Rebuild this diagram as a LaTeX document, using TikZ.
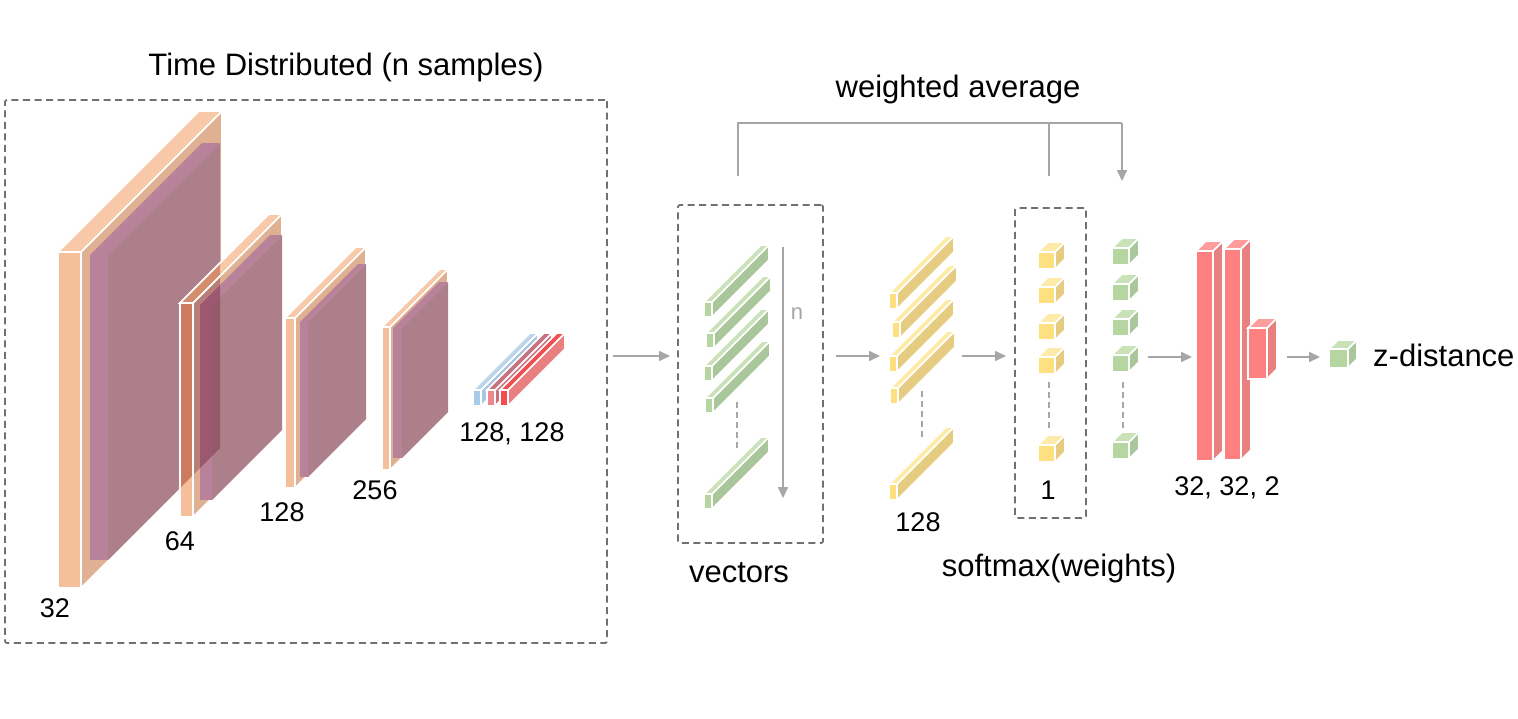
\documentclass[tikz,border=0pt]{standalone}
\usepackage{fontspec}
\setmainfont{Liberation Sans}
\usetikzlibrary{arrows.meta}
\definecolor{orF}{HTML}{F5BF9B}
\definecolor{orT}{HTML}{F7C9A8}
\definecolor{orS}{HTML}{DFB092}
\definecolor{orFd}{HTML}{CD7B5E}
\definecolor{orTd}{HTML}{D48E6E}
\definecolor{orSd}{HTML}{B87E78}
\definecolor{puF}{HTML}{B7829A}
\definecolor{puS}{HTML}{AD7F8A}
\definecolor{puFd}{HTML}{9B5870}
\definecolor{puSd}{HTML}{935A6A}
\definecolor{grF}{HTML}{B5D6A0}
\definecolor{grT}{HTML}{C9E2B8}
\definecolor{grS}{HTML}{A9C79A}
\definecolor{yeF}{HTML}{FFE080}
\definecolor{yeT}{HTML}{FFEBA8}
\definecolor{yeS}{HTML}{E5CC80}
\definecolor{rdF}{HTML}{FF8080}
\definecolor{rdT}{HTML}{FF9C9C}
\definecolor{rdS}{HTML}{E88080}
\definecolor{blF}{HTML}{A9CBE8}
\definecolor{blT}{HTML}{BAD5EC}
\definecolor{blS}{HTML}{A9C6E0}
\definecolor{mvF}{HTML}{F08690}
\definecolor{mvT}{HTML}{C7727F}
\definecolor{rrF}{HTML}{F24C4C}
\definecolor{rrT}{HTML}{EE5050}
\definecolor{lineG}{HTML}{A6A6A6}
\definecolor{boxG}{HTML}{707070}
\tikzset{
  edge3d/.style={draw=white,line width=1.6pt,line join=miter},
  dbox/.style={draw=boxG,line width=1.8pt,dash pattern=on 7pt off 4.5pt,rounded corners=2pt,inner sep=0pt},
  garrow/.style={draw=lineG,line width=1.8pt,-{Triangle[length=11pt,width=10pt]}},
  gline/.style={draw=lineG,line width=1.8pt},
  dline/.style={draw=lineG,line width=1.6pt,dash pattern=on 6pt off 4pt},
  biglab/.style={font=\fontsize{31}{36}\selectfont,inner sep=0pt},
  numlab/.style={font=\fontsize{27}{32}\selectfont,inner sep=0pt},
}
% x0 ytop w h d front top side
\newcommand{\slab}[8]{%
  \begin{scope}[shift={(#1,#2)}]
    \filldraw[fill=#8,edge3d] (#3,0) -- ({#3+#5},{-#5}) -- ({#3+#5},{#4-#5}) -- (#3,#4) -- cycle;
    \filldraw[fill=#7,edge3d] (0,0) -- (#5,-#5) -- ({#3+#5},{-#5}) -- (#3,0) -- cycle;
    \filldraw[fill=#6,edge3d] (0,0) rectangle (#3,#4);
  \end{scope}}
% purple box: x0 ytop w h d front side
\newcommand{\pbox}[7]{%
  \begin{scope}[shift={(#1,#2)}]
    \fill[#7] (#3,0) -- ({#3+#5},{-#5}) -- ({#3+#5},{#4-#5}) -- (#3,#4) -- cycle;
    \fill[#6] (0,0) -- (#5,-#5) -- ({#3+#5},{-#5}) -- (#3,0) -- cycle;
    \fill[#6] (0,0) rectangle (#3,#4);
  \end{scope}}
\begin{document}
\begin{tikzpicture}[x=1pt,y=-1pt]
\useasboundingbox (0,0) rectangle (1518,718);
\fill[white] (0,0) rectangle (1518,718);

% ---- dashed frames
\node[dbox,minimum width=602pt,minimum height=543pt] (tdbox) at (306,371.5) {};
\node[dbox,minimum width=145pt,minimum height=338pt] (vecbox) at (750.5,374) {};
\node[dbox,minimum width=71pt,minimum height=310pt] (smbox) at (1050.5,363) {};

% ---- convolution stack
\slab{58}{252}{23}{336}{141}{orF}{orT}{orS}
\pbox{90}{255}{18}{305}{112}{puF}{puS}
\slab{180}{303}{13}{214}{89}{orF}{orT}{orS}
\begin{scope}
  \clip (90,255) -- (202,143) -- (220,143) -- (220,448) -- (108,560) -- (90,560) -- cycle;
  \slab{180}{303}{13}{214}{89}{orFd}{orTd}{orSd}
\end{scope}
\pbox{200}{305}{12}{195}{70}{puF}{puS}
\begin{scope}
  \clip (90,255) -- (202,143) -- (220,143) -- (220,448) -- (108,560) -- (90,560) -- cycle;
  \pbox{200}{305}{12}{195}{70}{puFd}{puSd}
\end{scope}
\slab{285}{318}{10}{170}{71}{orF}{orT}{orS}
\pbox{300}{322}{8}{155}{58}{puF}{puS}
\slab{382}{327}{8}{143}{58}{orF}{orT}{orS}
\pbox{393}{328}{9}{130}{46}{puF}{puS}
% small bars
\slab{473}{390}{8}{16}{57}{blF}{blT}{blS}
\slab{487}{390}{8}{16}{57}{mvF}{mvT}{mvT}
\slab{500}{390}{8}{16}{57}{rrF}{rrT}{rdS}

% ---- green vectors
\slab{704}{302}{8}{15}{57}{grF}{grT}{grS}
\slab{706}{333}{8}{15}{57}{grF}{grT}{grS}
\slab{704}{366}{8}{15}{57}{grF}{grT}{grS}
\slab{705}{398}{8}{15}{57}{grF}{grT}{grS}
\slab{704}{494}{8}{15}{57}{grF}{grT}{grS}
\coordinate (gd1) at (737,402); \coordinate (gd2) at (737,449);
\draw[dline] (gd1) -- (gd2);
\coordinate (ns) at (783,247); \coordinate (ne) at (783,498);
\draw[draw=lineG,line width=1.6pt,-{Triangle[length=11pt,width=10pt]}] (ns) -- (ne);
\node[font=\fontsize{22}{26}\selectfont,text=lineG,inner sep=0pt] (nlab) at (797,314) {n};

% ---- yellow vectors
\slab{889}{293}{8}{16}{57}{yeF}{yeT}{yeS}
\slab{892}{322}{8}{16}{57}{yeF}{yeT}{yeS}
\slab{889}{356}{8}{16}{57}{yeF}{yeT}{yeS}
\slab{890}{388}{8}{16}{57}{yeF}{yeT}{yeS}
\slab{889}{484}{8}{16}{57}{yeF}{yeT}{yeS}
\coordinate (yd1) at (922,391); \coordinate (yd2) at (922,438);
\draw[dline] (yd1) -- (yd2);

% ---- yellow cubes (weights)
\slab{1038}{252}{17}{17}{10}{yeF}{yeT}{yeS}
\slab{1038}{287}{17}{17}{10}{yeF}{yeT}{yeS}
\slab{1038}{323}{17}{17}{10}{yeF}{yeT}{yeS}
\slab{1038}{357}{17}{17}{10}{yeF}{yeT}{yeS}
\slab{1038}{445}{17}{17}{10}{yeF}{yeT}{yeS}
\coordinate (cd1) at (1049,382); \coordinate (cd2) at (1049,430);
\draw[dline] (cd1) -- (cd2);

% ---- green cubes
\slab{1112}{248}{17}{17}{10}{grF}{grT}{grS}
\slab{1112}{284}{17}{17}{10}{grF}{grT}{grS}
\slab{1112}{319}{17}{17}{10}{grF}{grT}{grS}
\slab{1112}{355}{17}{17}{10}{grF}{grT}{grS}
\slab{1112}{442}{17}{17}{10}{grF}{grT}{grS}
\coordinate (ed1) at (1123,382); \coordinate (ed2) at (1123,430);
\draw[dline] (ed1) -- (ed2);

% ---- red dense blocks
\slab{1196}{251}{17}{210}{10}{rdF}{rdT}{rdS}
\slab{1224}{249}{17}{211}{10}{rdF}{rdT}{rdS}
\slab{1248}{328}{19}{51}{10}{rdF}{rdT}{rdS}

% ---- output cube
\slab{1329}{349}{19}{19}{9}{grF}{grT}{grS}

% ---- arrows
\coordinate (a1s) at (613,356); \coordinate (a1e) at (670,356);
\coordinate (a2s) at (836,356); \coordinate (a2e) at (880,356);
\coordinate (a3s) at (962,356); \coordinate (a3e) at (1006,356);
\coordinate (a4s) at (1148,357); \coordinate (a4e) at (1192,357);
\coordinate (a5s) at (1287,357); \coordinate (a5e) at (1320,357);
\draw[garrow] (a1s) -- (a1e);
\draw[garrow] (a2s) -- (a2e);
\draw[garrow] (a3s) -- (a3e);
\draw[garrow] (a4s) -- (a4e);
\draw[garrow] (a5s) -- (a5e);

% ---- weighted average connector
\coordinate (wl) at (738,176);
\coordinate (wlt) at (738,123);
\coordinate (wm) at (1049,176);
\coordinate (wmt) at (1049,123);
\coordinate (wrt) at (1122,123);
\coordinate (wr) at (1122,181);
\draw[gline] (wl) -- (wlt) -- (wrt);
\draw[gline] (wm) -- (wmt);
\draw[garrow] (wrt) -- (wr);

% ---- labels
\node[biglab] (ttd) at (346,67) {Time Distributed (n samples)};
\node[biglab] (twa) at (958,89) {weighted average};
\node[biglab] (tvec) at (739,573) {vectors};
\node[biglab] (tsm) at (1059,568) {softmax(weights)};
\node[biglab,anchor=west] (tz) at (1373,355) {z-distance};
\node[numlab] (l32) at (55,608) {32};
\node[numlab] (l64) at (180,541) {64};
\node[numlab] (l128) at (282,512) {128};
\node[numlab] (l256) at (375,490) {256};
\node[numlab] (l128b) at (512,434) {128, 128};
\node[numlab] (l128c) at (918,522) {128};
\node[numlab] (l1) at (1048,490) {1};
\node[numlab] (l3232) at (1227,488) {32, 32, 2};
\end{tikzpicture}
\end{document}
